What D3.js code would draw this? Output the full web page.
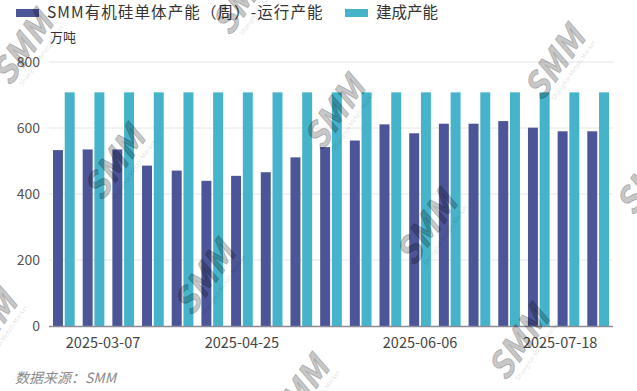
<!DOCTYPE html>
<html>
<head>
<meta charset="utf-8">
<script src="https://cdn.jsdelivr.net/npm/d3@7"></script>
<style>
  body { margin: 0; background: #fff; }
  text { font-family: "Noto Sans CJK SC", "Noto Sans", sans-serif; }
</style>
</head>
<body>
<div id="chart-area"></div>
<script>
let width = 637,
    height = 391;

// weekly categories (not shown on axis directly)
let weeks = ["2025-03-14","2025-03-21","2025-03-28","2025-04-04","2025-04-11","2025-04-18",
             "2025-04-25","2025-05-02","2025-05-09","2025-05-16","2025-05-23","2025-05-30",
             "2025-06-06","2025-06-13","2025-06-20","2025-06-27","2025-07-04","2025-07-11","2025-07-18"];
let running = [533, 535, 535, 486, 471, 440, 455, 466, 511, 542, 562, 611, 584, 613, 613, 621, 601, 590, 590];
let built = [708, 708, 708, 708, 708, 708, 708, 708, 708, 708, 708, 708, 708, 708, 708, 708, 708, 708, 708];
let seriesNames = ["SMM有机硅单体产能（周）-运行产能", "建成产能"];
let xTickLabels = ["2025-03-07", "2025-04-25", "2025-06-06", "2025-07-18"];
let xTickAt = [1.32, 6, 12, 16.72]; // category index where each label sits
let yTicks = [0, 200, 400, 600, 800];

let colors = ["#4b5597", "#45b4ca"];

let margin = {left: 49, right: 24, top: 62, bottom: 65};
let plotW = width - margin.left - margin.right,
    plotH = height - margin.top - margin.bottom;

let svg = d3.select("#chart-area").append("svg")
    .attr("width", width)
    .attr("height", height);

let x = d3.scaleBand()
    .domain(weeks)
    .range([margin.left, margin.left + plotW]);

let x1 = d3.scaleBand()
    .domain([0, 1])
    .range([4, x.bandwidth() - 4])
    .paddingInner(0.15);

let y = d3.scaleLinear()
    .domain([0, 800])
    .range([margin.top + plotH, margin.top]);

// grid
svg.append("g")
    .selectAll("line")
    .data(yTicks.filter(d => d > 0))
    .enter()
    .append("line")
    .attr("x1", margin.left)
    .attr("x2", margin.left + plotW)
    .attr("y1", d => y(d))
    .attr("y2", d => y(d))
    .attr("stroke", "#e6e6e6")
    .attr("stroke-width", 1);

// y labels
svg.append("g")
    .selectAll("text")
    .data(yTicks)
    .enter()
    .append("text")
    .attr("x", 40)
    .attr("y", d => y(d))
    .attr("dy", "0.35em")
    .attr("text-anchor", "end")
    .attr("font-size", 14)
    .attr("fill", "#555")
    .text(d => d);

svg.append("text")
    .attr("x", 50)
    .attr("y", 42)
    .attr("font-size", 13)
    .attr("fill", "#333")
    .text("万吨");

// bars
let groups = svg.append("g")
    .selectAll("g")
    .data(weeks)
    .enter()
    .append("g")
    .attr("transform", d => "translate(" + x(d) + ",0)");

groups.append("rect")
    .attr("x", x1(0))
    .attr("width", x1.bandwidth())
    .attr("y", (d, i) => y(running[i]))
    .attr("height", (d, i) => y(0) - y(running[i]))
    .attr("fill", colors[0]);

groups.append("rect")
    .attr("x", x1(1))
    .attr("width", x1.bandwidth())
    .attr("y", (d, i) => y(built[i]))
    .attr("height", (d, i) => y(0) - y(built[i]))
    .attr("fill", colors[1]);

// x axis line
svg.append("line")
    .attr("x1", margin.left)
    .attr("x2", margin.left + plotW)
    .attr("y1", y(0) + 0.5)
    .attr("y2", y(0) + 0.5)
    .attr("stroke", "#8a8d99")
    .attr("stroke-width", 1.5);

// x labels
let xIdx = d3.scaleLinear()
    .domain([0, weeks.length])
    .range([margin.left, margin.left + plotW]);

svg.append("g")
    .selectAll("text")
    .data(xTickLabels)
    .enter()
    .append("text")
    .attr("x", (d, i) => xIdx(xTickAt[i] + 0.5))
    .attr("y", 348)
    .attr("text-anchor", "middle")
    .attr("font-size", 14.5)
    .attr("fill", "#444")
    .text(d => d);

// legend
let legendX = [16, 345];
let legend = svg.append("g")
    .selectAll("g")
    .data(seriesNames)
    .enter()
    .append("g")
    .attr("transform", (d, i) => "translate(" + legendX[i] + ",0)");

legend.append("rect")
    .attr("x", 0)
    .attr("y", 9)
    .attr("width", 23)
    .attr("height", 8)
    .attr("fill", (d, i) => colors[i]);

legend.append("text")
    .attr("x", 31)
    .attr("y", 13)
    .attr("dy", "0.35em")
    .attr("font-size", 15.5)
    .attr("letter-spacing", (d, i) => i === 0 ? 1.1 : 0)
    .attr("fill", "#333")
    .text(d => d);

// source
svg.append("text")
    .attr("x", 15)
    .attr("y", 383)
    .attr("font-size", 14)
    .attr("font-style", "italic")
    .attr("fill", "#8a8a8a")
    .text("数据来源：SMM");

// watermarks
let markCenters = [[25, 50], [245, 0], [117, 165], [337, 115], [557, 65],
                   [207, 280], [429, 230], [649, 180], [-11, 330], [521, 345], [301, 395]];

let marks = svg.append("g")
    .attr("pointer-events", "none")
    .selectAll("g")
    .data(markCenters)
    .enter()
    .append("g")
    .attr("transform", d => "translate(" + d[0] + "," + d[1] + ") rotate(-55)");

marks.append("text")
    .attr("text-anchor", "middle")
    .attr("y", 9)
    .attr("font-family", "Liberation Sans, Arial, sans-serif")
    .attr("font-weight", "bold")
    .attr("font-style", "italic")
    .attr("font-size", 34)
    .attr("fill", "#000")
    .attr("fill-opacity", 0.22)
    .attr("stroke", "#000")
    .attr("stroke-opacity", 0.22)
    .attr("stroke-width", 1)
    .text("SMM");

marks.append("text")
    .attr("text-anchor", "middle")
    .attr("y", 19)
    .attr("x", 5)
    .attr("font-family", "Liberation Sans, Arial, sans-serif")
    .attr("font-size", 6.5)
    .attr("fill", "#000")
    .attr("fill-opacity", 0.15)
    .text("Shanghai Metals Market");
</script>
</body>
</html>
